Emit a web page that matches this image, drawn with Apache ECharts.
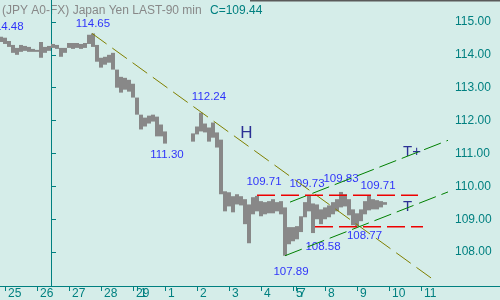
<!DOCTYPE html>
<html><head><meta charset="utf-8">
<script src="https://cdn.jsdelivr.net/npm/echarts@6/dist/echarts.min.js"></script>
<style>html,body{margin:0;padding:0;background:#d5ede9}#c{width:500px;height:300px}</style>
</head><body><div id="c"></div>
<script>
// ---- data (one 90-min bar every 2 x-units, gap = weekend) ----
const barHigh = [114.55,114.52,114.42,114.30,114.21,114.30,114.27,114.24,114.18,114.15,
  114.39,114.24,114.27,114.33,114.30,114.21,114.21,114.36,114.36,114.36,
  114.33,114.36,114.61,114.65,114.30,113.91,113.94,114.00,114.06,113.55,
  113.33,113.30,113.24,113.12,112.70,112.18,112.09,112.15,112.18,112.12,
  111.88,111.67,null,null,null,null,null,null,111.61,111.82,
  112.24,111.91,111.79,111.94,111.64,111.42,109.85,109.82,109.70,109.76,
  109.70,109.61,109.45,109.67,109.71,109.55,109.52,109.55,109.61,109.52,
  109.55,109.36,108.76,108.76,108.79,109.09,109.52,109.73,109.48,109.45,
  109.30,109.36,109.42,109.52,109.61,109.83,109.76,109.61,109.30,109.18,
  109.30,109.55,109.71,109.61,109.58,109.55,109.52];
const barLow = [114.39,114.33,114.24,114.06,114.00,114.09,114.12,114.09,114.09,114.09,
  113.91,114.06,114.12,114.21,114.18,113.94,114.06,114.21,114.18,114.21,
  114.18,114.21,114.33,114.24,113.79,113.61,113.70,113.76,113.55,113.00,
  112.85,112.94,112.88,112.70,112.18,111.73,111.82,111.91,111.97,111.52,
  111.52,111.30,null,null,null,null,null,null,111.36,111.58,
  111.67,111.64,111.36,111.48,111.18,109.76,109.24,109.39,109.21,109.45,
  109.42,108.85,108.27,109.15,109.24,109.09,109.15,109.18,109.18,109.24,
  109.15,107.89,108.24,108.33,108.39,108.61,109.06,109.24,108.58,109.00,
  108.85,109.00,109.06,109.15,109.24,109.36,109.39,109.12,108.82,108.77,
  108.94,109.15,109.27,109.30,109.30,109.36,109.44];
const lastClose = 109.44;

const dayTickPos = [2,18,34,50,66,68,82,98,114,130,146,147.5,162,178,194,210];
const dayTickLabels = ['25','26','27','28','29','1','1','2','3','4','5','7','8','9','10','11'];
const priceTicks = [108,109,110,111,112,113,114,115];

const pivotX = [0,46,100,82,128,154,170,184,156,178,142];
const pivotVal = [114.48,114.65,112.24,111.30,109.71,109.73,109.83,109.71,108.58,108.77,107.89];

const trendH = [[45.5,114.65],[216.5,107.15]];
const channelLow = [[142,107.89],[223.5,109.83]];
const channelHigh = [[144.5,109.52],[223.5,111.40]];
const resistLine = [[128,109.73],[208.5,109.73]];
const supportLine = [[157,108.77],[211,108.77]];

// ---- styles / positions ----
const pivotOffsets = [[5.5,-12.5],[0,-10],[8,-16],[2,11],[7,-14],[-2,-11],[0,-13],[9,-10.5],[10,13.4],[7.5,9],[6,15.7]];
const letterMarks = [
  {t:'H', x:122.75, y:111.60, size:17},
  {t:'T+', x:205.5, y:111.04, size:15},
  {t:'T', x:203.25, y:109.38, size:15}
];
const teal = '#008080';

const bars = [];
barHigh.forEach((h,k)=>{ if(h!=null) bars.push([2*k, h, barLow[k]]); });

const chart = echarts.init(document.getElementById('c'), null, {renderer:'canvas'});
chart.setOption({
  animation:false,
  backgroundColor:'#d5ede9',
  grid:{left:0,right:0,top:0,bottom:13},
  xAxis:{type:'value',min:-0.5,max:249.5,
    axisLine:{show:true,lineStyle:{color:teal,width:1}},
    splitLine:{show:false},
    axisTick:{show:true,customValues:dayTickPos,length:5,lineStyle:{color:teal}},
    axisLabel:{customValues:dayTickPos,color:teal,fontSize:12,fontFamily:'Liberation Sans',
      align:'left',verticalAlign:'top',margin:2,padding:[0,0,0,3],
      formatter:v=>dayTickLabels[dayTickPos.indexOf(v)]}},
  yAxis:{type:'value',position:'right',offset:-51,min:106.9697,max:115.6667,
    axisLine:{show:true,lineStyle:{color:teal,width:1}},
    splitLine:{show:false},
    axisTick:{show:true,customValues:priceTicks,length:5,inside:false,lineStyle:{color:teal}},
    axisLabel:{customValues:priceTicks,color:teal,fontSize:12,fontFamily:'Liberation Sans',margin:6,
      formatter:v=>v.toFixed(2)}},
  graphic:[
    {type:'rect',left:250,top:0,shape:{width:250,height:1.5},style:{fill:'#5a5a5a'}},
    {type:'text',left:2,top:5,style:{text:'(JPY A0-FX) Japan Yen LAST-90 min',fill:'#888888',font:'12px "Liberation Sans"'}},
    {type:'text',left:210,top:5,style:{text:'C='+lastClose.toFixed(2),fill:teal,font:'12px "Liberation Sans"'}}
  ],
  series:[
    {type:'custom',data:bars,silent:true,
      renderItem:(params,api)=>{
        const x=api.value(0);
        const a=api.coord([x,api.value(1)]), b=api.coord([x,api.value(2)]);
        return {type:'rect',shape:{x:Math.round(a[0])-2,y:a[1],width:4,height:Math.max(b[1]-a[1],1)},style:{fill:'#888888'}};
      }},
    {type:'line',data:trendH,symbol:'none',silent:true,lineStyle:{color:'#808000',width:1,type:[18,7]}},
    {type:'line',data:channelLow,symbol:'none',silent:true,lineStyle:{color:'#008000',width:1,type:[18,6]}},
    {type:'line',data:channelHigh,symbol:'none',silent:true,lineStyle:{color:'#008000',width:1,type:[18,6]}},
    {type:'line',data:resistLine,symbol:'none',silent:true,lineStyle:{color:'#ee0000',width:1.5,type:[18,6]}},
    {type:'line',data:supportLine,symbol:'none',silent:true,lineStyle:{color:'#ee0000',width:1.5,type:[18,6]}},
    {type:'scatter',silent:true,symbolSize:1,itemStyle:{color:'rgba(0,0,0,0)'},
      data:pivotX.map((x,i)=>({value:[x,pivotVal[i]],label:{offset:pivotOffsets[i]}})),
      label:{show:true,position:'inside',color:'#0000ff',fontSize:11.5,fontFamily:'Liberation Sans',
        formatter:p=>p.value[1].toFixed(2)}},
    {type:'scatter',silent:true,symbolSize:1,itemStyle:{color:'rgba(0,0,0,0)'},
      data:letterMarks.map(m=>({value:[m.x,m.y],name:m.t,label:{fontSize:m.size}})),
      label:{show:true,position:'inside',color:'#000080',fontFamily:'Liberation Sans',formatter:p=>p.name}}
  ]
});
</script></body></html>
